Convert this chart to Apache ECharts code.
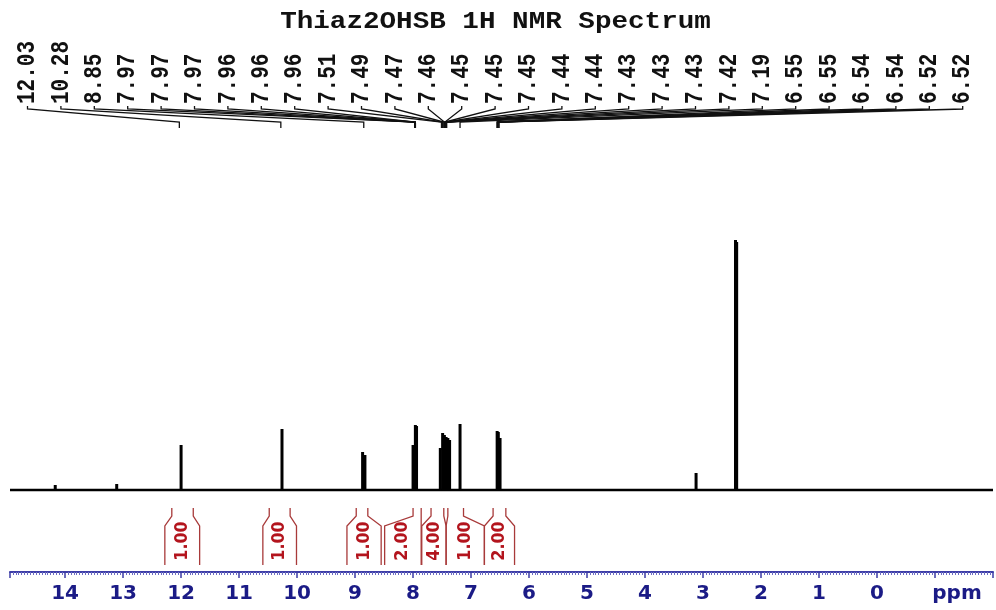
<!DOCTYPE html>
<html><head><meta charset="utf-8">
<script src="https://cdn.jsdelivr.net/npm/echarts@6/dist/echarts.min.js"></script>
<style>html,body{margin:0;padding:0;background:#fff}#c{width:996px;height:610px}</style>
</head><body><div id="c"></div>
<script>
// ---- data ----
const titleText = 'Thiaz2OHSB 1H NMR Spectrum';
const peakLabels = ['12.03','10.28','8.85','7.97','7.97','7.97','7.96','7.96','7.96','7.51','7.49','7.47','7.46','7.45','7.45','7.45','7.44','7.44','7.43','7.43','7.43','7.42','7.19','6.55','6.55','6.54','6.54','6.52','6.52'];
const peakPpm    = [14.17, 13.11, 12.00, 10.26, 8.87, 8.83, 8.00, 7.96, 7.94, 7.53, 7.49, 7.46, 7.43, 7.40, 7.37, 7.19, 6.55, 6.53, 6.50, 3.12, 2.44, 2.42];
const peakHeight = [5,     6,     45,    61,    38,   35,   45,   65,   64,   42,   57,   55,   53,   52,   50,   66,   59,   58,   52,   17,   250,  248];
const intValues = ['1.00','1.00','1.00','2.00','4.00','1.00','2.00'];
const intTopL = [12.16, 10.48, 8.98, 8.00, 7.69, 7.40, 6.62];
const intTopR = [11.79, 10.12, 8.78, 7.86, 7.47, 7.13, 6.40];
const intBoxL = [12.28, 10.59, 9.14, 8.49, 7.85, 7.43, 6.77];
const intBoxR = [11.68, 10.01, 8.55, 7.86, 7.43, 6.77, 6.25];
const tickLabelForMinusOne = 'ppm';

// ---- chart ----
const chart = echarts.init(document.getElementById('c'), null, {renderer: 'canvas'});
const LABEL_X0 = 27.5, LABEL_DX = 33.4;

const option = {
  animation: false,
  backgroundColor: '#fff',
  grid: {left: 10, right: 2, top: 140, bottom: 38},
  graphic: [{
    type: 'text', x: 495.5, y: 22, scaleX: 1.2,
    style: {text: titleText, font: 'bold 23px "Liberation Mono"', fill: '#111', align: 'center', verticalAlign: 'middle'}
  }],
  xAxis: {
    type: 'value', inverse: true, min: -2, max: 14.95, interval: 1,
    axisLine: {onZero: false, lineStyle: {color: '#3d3da6', width: 2}},
    axisTick: {length: 6, lineStyle: {color: '#3d3da6', width: 1.5}},
    minorTick: {show: true, splitNumber: 20, length: 3, lineStyle: {color: '#6b6bc4', width: 1}},
    splitLine: {show: false},
    axisLabel: {
      margin: 12, fontFamily: 'DejaVu Sans', fontWeight: 'bold', fontSize: 20, color: '#1b1b86',
      showMinLabel: true, showMaxLabel: true,
      formatter: function (v) {
        if (Math.abs(v - Math.round(v)) > 1e-6) return '';
        const r = Math.round(v);
        if (r === -1) return '{p|' + tickLabelForMinusOne + '}';
        if (r < -1) return '';
        return String(r);
      },
      rich: {p: {fontFamily: 'DejaVu Sans', fontWeight: 'bold', fontSize: 20, color: '#1b1b86', padding: [0, 0, 0, 44]}}
    }
  },
  yAxis: {type: 'value', min: -82, max: 350, show: false, splitLine: {show: false}},
  series: [
    {
      type: 'line', symbol: 'none', silent: true,
      data: [[14.95, 0], [-2, 0]],
      lineStyle: {color: '#000', width: 2.5}
    },
    {
      type: 'bar', barWidth: 3, silent: true, barGap: '-100%',
      itemStyle: {color: '#000'},
      data: peakPpm.map((p, i) => [p, peakHeight[i]])
    },
    {
      type: 'custom', clip: false, silent: true,
      data: peakLabels.map(s => [parseFloat(s), 0]),
      renderItem: function (params, api) {
        const i = params.dataIndex;
        const px = api.coord([api.value(0), 0])[0];
        const lx = LABEL_X0 + i * LABEL_DX;
        return {type: 'group', children: [
          {type: 'polyline', shape: {points: [[lx, 106], [lx, 109], [px, 122], [px, 128]]},
           style: {stroke: '#111', lineWidth: 1.3, fill: 'none'}},
          {type: 'text', x: lx, y: 104, rotation: Math.PI / 2, scaleY: 1.25,
           style: {text: peakLabels[i], font: 'bold 21px "Liberation Mono"', fill: '#111', align: 'left', verticalAlign: 'middle'}}
        ]};
      }
    },
    {
      type: 'custom', clip: false, silent: true,
      data: intValues.map((v, i) => [(intTopL[i] + intTopR[i]) / 2, 0]),
      renderItem: function (params, api) {
        const i = params.dataIndex;
        const X = p => api.coord([p, 0])[0];
        const tl = X(intTopL[i]), tr = X(intTopR[i]), bl = X(intBoxL[i]), br = X(intBoxR[i]);
        const yT = 508, y1 = 516, y2 = 526, yB = 565;
        const ls = {stroke: '#a83a3a', lineWidth: 1.3, fill: 'none'};
        return {type: 'group', children: [
          {type: 'polyline', shape: {points: [[tl, yT], [tl, y1], [bl, y2], [bl, yB]]}, style: ls},
          {type: 'polyline', shape: {points: [[tr, yT], [tr, y1], [br, y2], [br, yB]]}, style: ls},
          {type: 'text', x: (bl + br) / 2, y: 541, rotation: Math.PI / 2, scaleY: 1.1,
           style: {text: intValues[i], font: 'bold 16px "DejaVu Sans"', fill: '#b3141d', align: 'center', verticalAlign: 'middle'}}
        ]};
      }
    }
  ]
};
chart.setOption(option);
</script>
</body></html>
